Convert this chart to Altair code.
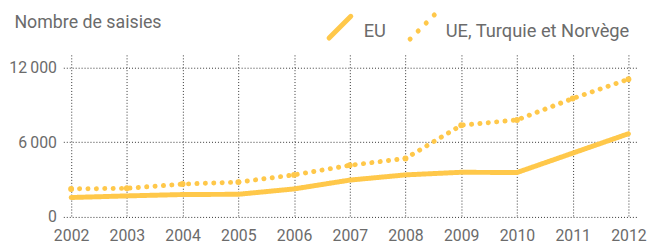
import altair as alt
import pandas as pd

years = [2002, 2003, 2004, 2005, 2006, 2007, 2008, 2009, 2010, 2011, 2012]
eu = [1560, 1690, 1800, 1820, 2250, 2960, 3380, 3590, 3570, 5130, 6690]
ue_tn = [2250, 2300, 2640, 2800, 3380, 4150, 4700, 7370, 7800, 9520, 11070]
series_names = ["EU", "UE, Turquie et Norvège"]
y_ticks = [0, 6000, 12000]

rows = []
for i, yr in enumerate(years):
    rows.append({"year": yr, "value": eu[i], "series": series_names[0]})
    rows.append({"year": yr, "value": ue_tn[i], "series": series_names[1]})
df = pd.DataFrame(rows)

FONT = "Roboto"
GRAY = "#6b6b6b"
YEL = "#ffc84a"

x = alt.X("year:Q",
          scale=alt.Scale(domain=[2001.86, 2012.16], nice=False, zero=False),
          axis=alt.Axis(values=years, format="d", title=None, ticks=False,
                        domain=False, labelPadding=11, labelFontSize=16,
                        labelColor=GRAY, labelFont=FONT,
                        grid=True, gridColor="#333", gridDash=[1, 2],
                        gridWidth=1, labelFlush=False))
y = alt.Y("value:Q",
          scale=alt.Scale(domain=[0, 13030], nice=False),
          axis=alt.Axis(values=y_ticks, ticks=False, domain=False,
                        labelPadding=7, labelFontSize=16, labelColor=GRAY,
                        labelFont=FONT,
                        labelExpr="replace(format(datum.value, ',d'), ',', '\u2009')",
                        grid=True, gridColor="#333", gridDash=[1, 2], gridWidth=1,
                        title="Nombre de saisies", titleAngle=0, titleAlign="left",
                        titleBaseline="alphabetic", titleX=-50, titleY=-28,
                        titleFont=FONT, titleFontSize=18, titleFontWeight="normal",
                        titleColor=GRAY))

lines = alt.Chart(df).mark_line(strokeCap="round", strokeJoin="round", color=YEL).encode(
    x=x, y=y,
    strokeDash=alt.StrokeDash("series:N",
        scale=alt.Scale(domain=series_names, range=[[1, 0], [0.1, 8.4]]),
        legend=None),
    strokeWidth=alt.StrokeWidth("series:N",
        scale=alt.Scale(domain=series_names, range=[5, 5]), legend=None),
    detail="series:N",
)

pts = alt.Chart(df[df.series == series_names[1]]).mark_circle(
    color=YEL, opacity=1, size=36).encode(x=x, y=y)

# hand-drawn legend above the plot (pixel positions relative to the plot area)
leg_base = alt.Chart(pd.DataFrame({"k": [0]}))
leg_solid = leg_base.mark_rule(color=YEL, strokeWidth=5, strokeCap="round").encode(
    x=alt.value(269), x2=alt.value(291), y=alt.value(-17), y2=alt.value(-39))
leg_dots = leg_base.mark_rule(color=YEL, strokeWidth=5, strokeCap="round",
                              strokeDash=[0.1, 11.4]).encode(
    x=alt.value(351), x2=alt.value(375.5), y=alt.value(-16), y2=alt.value(-40.5))
leg_t1 = leg_base.mark_text(font=FONT, fontSize=18.5, color=GRAY, align="left",
                            baseline="alphabetic").encode(
    x=alt.value(304), y=alt.value(-18), text=alt.value(series_names[0]))
leg_t2 = leg_base.mark_text(font=FONT, fontSize=18.5, color=GRAY, align="left",
                            baseline="alphabetic").encode(
    x=alt.value(387), y=alt.value(-18), text=alt.value(series_names[1]))

chart = alt.layer(lines, pts, leg_solid, leg_dots, leg_t1, leg_t2).properties(
    width=581, height=164,
    autosize=alt.AutoSizeParams(type="none"),
    padding={"left": 56, "top": 46, "right": 27, "bottom": 30},
).configure_view(stroke=None)

chart.save("out.html", embed_options={"renderer": "svg", "actions": False})
